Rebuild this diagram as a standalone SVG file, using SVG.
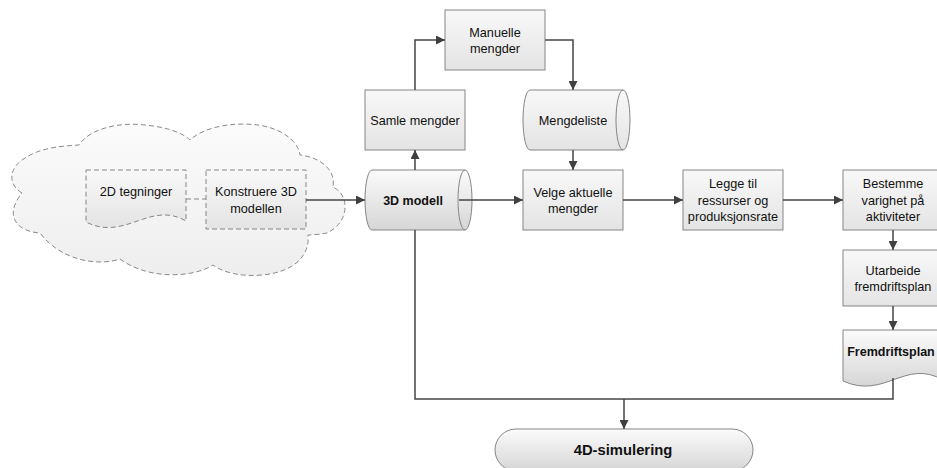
<svg xmlns="http://www.w3.org/2000/svg" width="937" height="468" viewBox="0 0 937 468">
<defs>
<linearGradient id="gBox" x1="0" y1="0" x2="0" y2="1"><stop offset="0" stop-color="#f8f8f8"/><stop offset="1" stop-color="#e4e4e4"/></linearGradient>
<linearGradient id="gBold" x1="0" y1="0" x2="0" y2="1"><stop offset="0" stop-color="#fbfbfb"/><stop offset="1" stop-color="#d6d6d6"/></linearGradient>
<linearGradient id="gCloud" x1="0" y1="0" x2="0" y2="1"><stop offset="0" stop-color="#fbfbfb"/><stop offset="1" stop-color="#eeeeee"/></linearGradient>
<marker id="arr" viewBox="0 0 10 10" refX="10" refY="5" markerWidth="9" markerHeight="9" markerUnits="userSpaceOnUse" orient="auto"><path d="M0,0 L10,5 L0,10 Z" fill="#404040"/></marker>
</defs>
<style>
.box{fill:url(#gBox);stroke:#858585;stroke-width:1}
.bold{fill:url(#gBold);stroke:#858585;stroke-width:1}
.dash{fill:url(#gBox);stroke:#858585;stroke-width:1;stroke-dasharray:5 3}
.cloud{fill:url(#gCloud);stroke:#8a8a8a;stroke-width:1;stroke-dasharray:5 3}
.inner{fill:none;stroke:#858585;stroke-width:1}
.t{font-family:"Liberation Sans",Arial,sans-serif;font-size:12.7px;fill:#111;text-anchor:middle}
.tb{font-family:"Liberation Sans",Arial,sans-serif;font-size:12.5px;font-weight:bold;fill:#111;text-anchor:middle}
.c{fill:none;stroke:#454545;stroke-width:1.5}
.cd{fill:none;stroke:#858585;stroke-width:1;stroke-dasharray:5 3}
</style>
<rect width="937" height="468" fill="#ffffff"/>

<g id="cloud">
<path class="cloud" d="M22 193 C8 185 8 168 25 158 C40 148 60 146 79 145 C90 128 120 122 145 125 C165 127 182 132 190 140 C205 126 235 122 258 125 C280 128 298 140 300 155 C318 157 336 168 333 187 C350 195 350 222 327 233 C322 234 314 235 308 235 C310 255 295 272 262 275 C240 277 222 272 213 265 C195 277 150 281 120 259 C100 266 62 262 40 233 C20 232 2 218 22 193 Z"/>
</g>

<g id="n2d">
<path class="dash" d="M86 170 H186 V221 C150 200 125 242 86 222 Z"/>
<text class="t" x="136" y="196">2D tegninger</text>
</g>

<g id="konstruere">
<rect class="dash" x="206" y="170" width="100" height="59"/>
<text class="t" x="256" y="196">Konstruere 3D</text>
<text class="t" x="256" y="212.5">modellen</text>
</g>

<g id="modell3d">
<path class="bold" d="M372 170 L465 170 A7 30 0 0 1 465 230 L372 230 A7 30 0 0 1 372 170 Z"/>
<path class="inner" d="M465 170 A7 30 0 0 0 465 230"/>
<text class="tb" x="413" y="204.5">3D modell</text>
</g>

<g id="samle">
<rect class="box" x="365" y="90" width="100" height="60"/>
<text class="t" x="415" y="124.5">Samle mengder</text>
</g>

<g id="manuelle">
<rect class="box" x="445" y="10" width="100" height="60"/>
<text class="t" x="495" y="36.5">Manuelle</text>
<text class="t" x="495" y="52.5">mengder</text>
</g>

<g id="mengdeliste">
<path class="box" d="M530 90 L623 90 A7 30 0 0 1 623 150 L530 150 A7 30 0 0 1 530 90 Z"/>
<path class="inner" d="M623 90 A7 30 0 0 0 623 150"/>
<text class="t" x="573" y="124.5">Mengdeliste</text>
</g>

<g id="velge">
<rect class="box" x="523" y="170" width="100" height="60"/>
<text class="t" x="573" y="196.5">Velge aktuelle</text>
<text class="t" x="573" y="212.5">mengder</text>
</g>

<g id="legge">
<rect class="box" x="683" y="170" width="100" height="60"/>
<text class="t" x="733" y="188">Legge til</text>
<text class="t" x="733" y="204.5">ressurser og</text>
<text class="t" x="733" y="221">produksjonsrate</text>
</g>

<g id="bestemme">
<rect class="box" x="843" y="170" width="100" height="60"/>
<text class="t" x="893" y="188">Bestemme</text>
<text class="t" x="893" y="204.5">varighet på</text>
<text class="t" x="893" y="221">aktiviteter</text>
</g>

<g id="utarbeide">
<rect class="box" x="843" y="250" width="100" height="56"/>
<text class="t" x="893" y="275">Utarbeide</text>
<text class="t" x="893" y="291">fremdriftsplan</text>
</g>

<g id="fremdriftsplan">
<path class="bold" d="M843 330 H943 V380 C905 358 885 400 843 381 Z"/>
<text class="tb" x="891" y="356">Fremdriftsplan</text>
</g>

<g id="sim4d">
<rect class="bold" x="495" y="429" width="258" height="42" rx="21" ry="21"/>
<text class="tb" x="623" y="455" style="font-size:14.8px">4D-simulering</text>
</g>

<g id="connectors">
<line class="cd" x1="186" y1="199" x2="206" y2="199"/>
<line class="c" x1="306" y1="200" x2="365" y2="200" marker-end="url(#arr)"/>
<line class="c" x1="415" y1="170" x2="415" y2="150" marker-end="url(#arr)"/>
<polyline class="c" points="415,90 415,40 445,40" marker-end="url(#arr)"/>
<polyline class="c" points="545,40 573,40 573,90" marker-end="url(#arr)"/>
<line class="c" x1="573" y1="150" x2="573" y2="170" marker-end="url(#arr)"/>
<line class="c" x1="459" y1="200" x2="523" y2="200" marker-end="url(#arr)"/>
<line class="c" x1="623" y1="200" x2="683" y2="200" marker-end="url(#arr)"/>
<line class="c" x1="783" y1="200" x2="843" y2="200" marker-end="url(#arr)"/>
<line class="c" x1="893" y1="230" x2="893" y2="250" marker-end="url(#arr)"/>
<line class="c" x1="893" y1="306" x2="893" y2="330" marker-end="url(#arr)"/>
<polyline class="c" points="415,230 415,399 893,399 893,378"/>
<line class="c" x1="624" y1="399" x2="624" y2="429" marker-end="url(#arr)"/>
</g>
</svg>
